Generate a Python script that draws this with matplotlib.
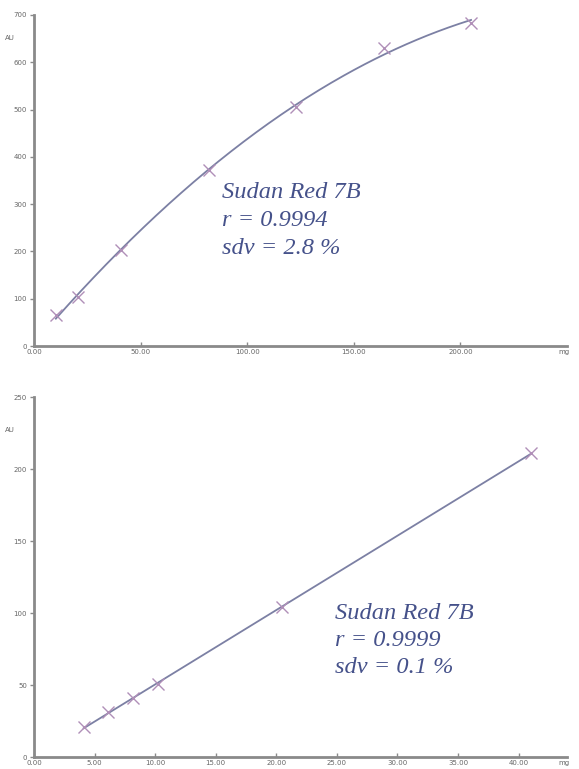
import numpy as np
import matplotlib.pyplot as plt
from matplotlib.ticker import FormatStrFormatter
import matplotlib.transforms as mtransforms

# calibration standards, upper range (ng vs. AU)
top_amount = [10.25, 20.5, 41.0, 82.0, 123.0, 164.0, 205.0]
top_area = [65, 104, 203, 372, 505, 630, 683]
top_label = ["Sudan Red 7B", "r = 0.9994", "sdv = 2.8 %"]

# calibration standards, lower range
bot_amount = [4.1, 6.15, 8.2, 10.25, 20.5, 41.0]
bot_area = [21, 31, 41, 50.5, 104, 211]
bot_label = ["Sudan Red 7B", "r = 0.9999", "sdv = 0.1 %"]

LINE_C = "#7c80a4"
MARK_C = "#b08fb8"
AXIS_C = "#8a8a8a"
TEXT_C = "#45518a"


def style_axes(ax, xmax, ymax, xstep, ystep, au_y):
    ax.set_xlim(0, xmax)
    ax.set_ylim(0, ymax)
    for s in ("top", "right"):
        ax.spines[s].set_visible(False)
    for s in ("left", "bottom"):
        ax.spines[s].set_color(AXIS_C)
        ax.spines[s].set_linewidth(2)
    ax.set_xticks(np.arange(0, xmax - xstep * 0.5, xstep))
    ax.set_yticks(np.arange(0, ymax + 1, ystep))
    ax.xaxis.set_major_formatter(FormatStrFormatter("%.2f"))
    ax.tick_params(axis="both", colors=AXIS_C, labelsize=5, length=3,
                   width=1, labelcolor="#666666", pad=2)
    ax.tick_params(axis="x", direction="in")
    trans = mtransforms.blended_transform_factory(ax.transAxes, ax.transData)
    ax.text(-0.045, au_y, "AU", transform=trans, fontsize=5,
            color="#666666", ha="center", va="center")
    # unit label sits at the end of the x axis, level with the tick labels
    ax.annotate("mg", xy=(0.995, 0), xycoords="axes fraction",
                xytext=(0, -4.5), textcoords="offset points", fontsize=5,
                color="#666666", ha="center", va="center")


def draw_label(ax, x, y, lines, dy):
    for i, s in enumerate(lines):
        ax.text(x, y - i * dy, s, transform=ax.transAxes, fontsize=17.6,
                family="Liberation Serif", style="italic", color=TEXT_C,
                ha="left", va="center")


fig = plt.figure(figsize=(5.79, 7.69), dpi=100)

# upper range: quadratic calibration curve
ax1 = fig.add_axes([0.0587, 0.550, 0.9206, 0.4305])
coef = np.polyfit(top_amount, top_area, 2)
xs = np.linspace(top_amount[0], top_amount[-1], 200)
ax1.plot(xs, np.polyval(coef, xs), color=LINE_C, lw=1.3, zorder=2)
ax1.plot(top_amount, top_area, "x", color=MARK_C, ms=8, mew=1.0, zorder=3)
style_axes(ax1, 250, 700, 50, 100, 651)
draw_label(ax1, 0.353, 0.465, top_label, 0.085)

# lower range: linear calibration
ax2 = fig.add_axes([0.0587, 0.0156, 0.9206, 0.468])
coef2 = np.polyfit(bot_amount, bot_area, 1)
xs2 = np.array([bot_amount[0], bot_amount[-1]])
ax2.plot(xs2, np.polyval(coef2, xs2), color=LINE_C, lw=1.3, zorder=2)
ax2.plot(bot_amount, bot_area, "x", color=MARK_C, ms=8, mew=1.0, zorder=3)
style_axes(ax2, 44, 250, 5, 50, 227)
draw_label(ax2, 0.565, 0.40, bot_label, 0.075)

fig.savefig("out.png", dpi=100)
